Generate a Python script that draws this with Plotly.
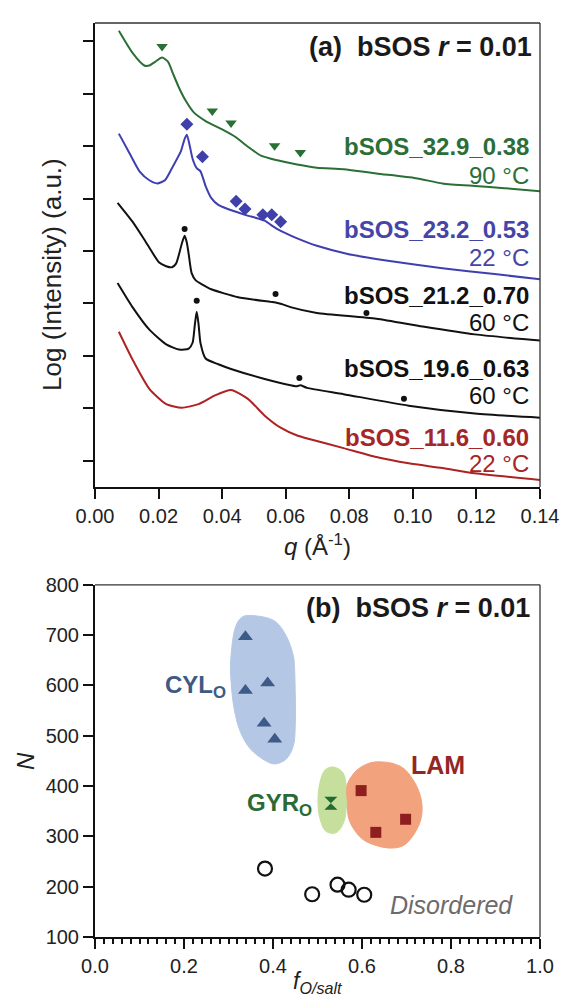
import plotly.graph_objects as go

FONT = "Liberation Sans, Arial, Helvetica, sans-serif"

# ---------------- Panel (a): SAXS profiles (log intensity, arbitrary offset units) ----------------
q_green = [0.0075, 0.0118, 0.0155, 0.0171, 0.0189, 0.0211, 0.0230, 0.0245, 0.0264, 0.0286, 0.0310,
           0.0348, 0.0397, 0.0441, 0.0481, 0.0522, 0.0574, 0.0636, 0.0698, 0.0782, 0.0885, 0.1009,
           0.1093, 0.1195, 0.1288, 0.1403]
I_green = [8.70, 8.28, 8.04, 8.04, 8.11, 8.19, 8.11, 7.89, 7.62, 7.36, 7.15,
           6.98, 6.83, 6.68, 6.49, 6.32, 6.23, 6.15, 6.09, 6.06, 5.98, 5.89,
           5.79, 5.74, 5.70, 5.64]

q_blue = [0.0075, 0.0109, 0.0140, 0.0171, 0.0196, 0.0220, 0.0242, 0.0270, 0.0282, 0.0289, 0.0298,
          0.0307, 0.0320, 0.0332, 0.0348, 0.0366, 0.0388, 0.0410, 0.0472, 0.0534, 0.0553, 0.0574,
          0.0596, 0.0636, 0.0698, 0.0792, 0.0916, 0.1093, 0.1257, 0.1403]
I_blue = [6.74, 6.36, 6.02, 5.85, 5.79, 5.85, 6.08, 6.40, 6.64, 6.72, 6.51,
          6.26, 6.08, 6.02, 5.74, 5.51, 5.38, 5.32, 5.19, 5.08, 5.00, 4.92,
          4.85, 4.74, 4.60, 4.45, 4.32, 4.17, 4.06, 3.96]

q_black1 = [0.0071, 0.0118, 0.0155, 0.0202, 0.0224, 0.0242, 0.0255, 0.0264, 0.0273, 0.0282, 0.0289,
            0.0295, 0.0304, 0.0317, 0.0335, 0.0366, 0.0450, 0.0553, 0.0574, 0.0587, 0.0615, 0.0698,
            0.0885, 0.1031, 0.1195, 0.1403]
I_black1 = [5.42, 5.06, 4.72, 4.28, 4.21, 4.19, 4.26, 4.43, 4.64, 4.79, 4.66,
            4.43, 4.08, 3.94, 3.87, 3.77, 3.62, 3.53, 3.51, 3.49, 3.43, 3.32,
            3.21, 3.06, 2.91, 2.79]

q_black2 = [0.0071, 0.0118, 0.0171, 0.0224, 0.0264, 0.0295, 0.0307, 0.0314, 0.0320, 0.0326, 0.0332,
            0.0348, 0.0388, 0.0428, 0.0534, 0.0636, 0.0646, 0.0667, 0.0782, 0.0987, 0.1195, 0.1403]
I_black2 = [3.89, 3.43, 3.00, 2.72, 2.62, 2.64, 2.75, 3.09, 3.34, 3.09, 2.74,
            2.45, 2.34, 2.25, 2.06, 1.92, 1.94, 1.89, 1.77, 1.55, 1.40, 1.32]

q_red = [0.0075, 0.0118, 0.0171, 0.0224, 0.0273, 0.0326, 0.0379, 0.0428, 0.0481, 0.0534, 0.0584,
         0.0636, 0.0677, 0.0782, 0.0885, 0.0987, 0.1093, 0.1195, 0.1403]
I_red = [2.96, 2.43, 1.87, 1.58, 1.51, 1.58, 1.75, 1.85, 1.68, 1.36, 1.13,
         0.98, 0.91, 0.74, 0.57, 0.45, 0.36, 0.26, 0.13]

# peak markers
q_tri = [0.0211, 0.0369, 0.0428, 0.0565, 0.0646]
I_tri = [8.40, 7.17, 6.94, 6.51, 6.38]
q_dia = [0.0289, 0.0338, 0.0444, 0.0472, 0.0528, 0.0556, 0.0584]
I_dia = [6.92, 6.30, 5.45, 5.30, 5.19, 5.19, 5.06]
q_dot1 = [0.0282, 0.0568, 0.0854]
I_dot1 = [4.92, 3.68, 3.32]
q_dot2 = [0.0320, 0.0643, 0.0972]
I_dot2 = [3.55, 2.08, 1.68]

sample_names = ["bSOS_32.9_0.38", "bSOS_23.2_0.53", "bSOS_21.2_0.70", "bSOS_19.6_0.63", "bSOS_11.6_0.60"]
sample_temps = ["90 °C", "22 °C", "60 °C", "60 °C", "22 °C"]
name_y = [6.49, 4.91, 3.66, 2.26, 0.94]
temp_y = [5.94, 4.38, 3.13, 1.74, 0.45]
colors_a = ["#2b6e38", "#4545a8", "#111111", "#111111", "#a52626"]
line_colors = ["#2a6f35", "#3f3fb0", "#111111", "#111111", "#ad2222"]

q_ticks = [0.00, 0.02, 0.04, 0.06, 0.08, 0.10, 0.12, 0.14]
logI_ticks = [0.5, 1.5, 2.5, 3.5, 4.5, 5.5, 6.5, 7.5, 8.5]

# ---------------- Panel (b): morphology map ----------------
f_cyl = [0.338, 0.388, 0.338, 0.380, 0.404]
N_cyl = [697, 605, 590, 525, 493]
f_gyr = [0.530]
N_gyr = [366]
f_lam = [0.598, 0.631, 0.698]
N_lam = [391, 308, 334]
f_dis = [0.382, 0.488, 0.545, 0.570, 0.605]
N_dis = [236, 185, 204, 194, 184]

# hand-drawn phase regions (outline points, data units)
cyl_region_f = [0.342, 0.402, 0.430, 0.446, 0.448, 0.450, 0.450, 0.446, 0.430, 0.404, 0.380, 0.349,
                0.327, 0.313, 0.305, 0.305, 0.316, 0.329]
cyl_region_N = [739, 729, 698, 658, 641, 586, 521, 481, 454, 444, 452, 474,
                507, 552, 619, 651, 717, 735]
gyr_region_f = [0.534, 0.556, 0.565, 0.565, 0.558, 0.541, 0.519, 0.506, 0.501, 0.506, 0.517]
gyr_region_N = [438, 428, 399, 360, 326, 307, 310, 334, 369, 409, 432]
lam_region_f = [0.645, 0.673, 0.695, 0.713, 0.728, 0.735, 0.731, 0.711, 0.691, 0.658, 0.607, 0.585,
                0.570, 0.567, 0.567, 0.589, 0.618]
lam_region_N = [448, 444, 434, 415, 389, 360, 330, 297, 281, 277, 291, 310,
                336, 369, 403, 432, 446]

fig = go.Figure()

# ---- panel (a) traces
curves = [(q_green, I_green), (q_blue, I_blue), (q_black1, I_black1), (q_black2, I_black2), (q_red, I_red)]
for (qq, ii), c in zip(curves, line_colors):
    fig.add_trace(go.Scatter(x=qq, y=ii, mode="lines", line=dict(color=c, width=2, shape="spline", smoothing=0.6),
                             xaxis="x", yaxis="y", showlegend=False, hoverinfo="skip"))

fig.add_trace(go.Scatter(x=q_tri, y=I_tri, mode="markers", xaxis="x", yaxis="y", showlegend=False,
                         marker=dict(symbol="triangle-down", size=10, color="#2a6f35")))
fig.add_trace(go.Scatter(x=q_dia, y=I_dia, mode="markers", xaxis="x", yaxis="y", showlegend=False,
                         marker=dict(symbol="diamond", size=10, color="#4040aa")))
fig.add_trace(go.Scatter(x=q_dot1 + q_dot2, y=I_dot1 + I_dot2, mode="markers", xaxis="x", yaxis="y",
                         showlegend=False, marker=dict(symbol="circle", size=6, color="#111111")))

# ---- panel (b) traces
for rf, rn, col in [(cyl_region_f, cyl_region_N, "#b4c8e6"), (gyr_region_f, gyr_region_N, "#c6df9d"),
                    (lam_region_f, lam_region_N, "#f3a27e")]:
    fig.add_trace(go.Scatter(x=rf + rf[:1], y=rn + rn[:1], mode="lines", fill="toself", fillcolor=col,
                             line=dict(color=col, width=1, shape="spline", smoothing=1.0),
                             xaxis="x2", yaxis="y2", showlegend=False, hoverinfo="skip"))

fig.add_trace(go.Scatter(x=f_cyl, y=N_cyl, mode="markers", xaxis="x2", yaxis="y2", showlegend=False,
                         marker=dict(symbol="triangle-up", size=13, color="#3d5a88")))
fig.add_trace(go.Scatter(x=f_gyr, y=N_gyr, mode="markers", xaxis="x2", yaxis="y2", showlegend=False,
                         marker=dict(symbol="hourglass", size=13, color="#236b30")))
fig.add_trace(go.Scatter(x=f_lam, y=N_lam, mode="markers", xaxis="x2", yaxis="y2", showlegend=False,
                         marker=dict(symbol="square", size=11, color="#8e1f1f")))
fig.add_trace(go.Scatter(x=f_dis, y=N_dis, mode="markers", xaxis="x2", yaxis="y2", showlegend=False,
                         marker=dict(symbol="circle-open", size=14, color="#111111", line=dict(width=2.2))))

axis_common = dict(showline=True, linecolor="#111111", linewidth=2, ticks="outside", ticklen=10,
                   tickwidth=2, tickcolor="#111111", showgrid=False, zeroline=False,
                   tickfont=dict(family=FONT, size=20, color="#222222"))

ML, MR, MT, MB = 95, 24, 13, 64
W, H = 571, 1001
plot_w = W - ML - MR
plot_h = H - MT - MB


def px_x(p):
    return (p - ML) / plot_w


def px_y(p):
    return (H - MB - p) / plot_h


fig.update_layout(
    width=W, height=H,
    margin=dict(l=ML, r=MR, t=MT, b=MB),
    paper_bgcolor="white", plot_bgcolor="white",
    font=dict(family=FONT, color="#111111"),
    xaxis=dict(domain=[0, 1], anchor="y", range=[0, 0.14], tickvals=q_ticks, tickformat=".2f", **axis_common),
    yaxis=dict(domain=[px_y(482), 1], anchor="x", range=[0, 8.85], tickvals=logI_ticks, showticklabels=False,
               **axis_common),
    xaxis2=dict(domain=[0, 1], anchor="y2", range=[0, 1], dtick=0.2, tick0=0, tickformat=".1f",
                minor=dict(dtick=0.02, ticklen=5, tickwidth=1.5, ticks="outside", tickcolor="#111111"),
                **axis_common),
    yaxis2=dict(domain=[0, px_y(581)], anchor="x2", range=[100, 800], dtick=100, tick0=100, **axis_common),
)

# top / right frame lines (thinner)
for xr, yr in [("x domain", "y domain"), ("x2 domain", "y2 domain")]:
    fig.add_shape(type="line", xref=xr, yref=yr, x0=0, x1=1, y0=1, y1=1, line=dict(color="#333333", width=1.3))
    fig.add_shape(type="line", xref=xr, yref=yr, x0=1, x1=1, y0=0, y1=1, line=dict(color="#333333", width=1.3))

ann = []
# panel (a) labels
ann.append(dict(x=0.1381, y=8.40, xref="x", yref="y", xanchor="right", yanchor="middle", showarrow=False,
                text="<b>(a)\u00a0\u00a0bSOS <i>r</i> = 0.01</b>", font=dict(size=27, color="#1a1a1a")))
for nm, tp, ny, ty, c in zip(sample_names, sample_temps, name_y, temp_y, colors_a):
    ann.append(dict(x=0.1372, y=ny, xref="x", yref="y", xanchor="right", yanchor="middle", showarrow=False,
                    text="<b>" + nm + "</b>", font=dict(size=24, color=c)))
    ann.append(dict(x=0.1372, y=ty, xref="x", yref="y", xanchor="right", yanchor="middle", showarrow=False,
                    text=tp, font=dict(size=24, color=c)))
# axis titles (a)
ann.append(dict(x=px_x(52), y=px_y(267), xref="paper", yref="paper", xanchor="center", yanchor="middle",
                showarrow=False, text="Log (Intensity) (a.u.)", textangle=-90,
                font=dict(size=26, color="#222222")))
ann.append(dict(x=0.5, y=px_y(541), xref="paper", yref="paper", xanchor="center", yanchor="middle",
                showarrow=False, text="<i>q</i> (Å<sup>-1</sup>)", font=dict(size=24, color="#222222")))
# panel (b) labels
ann.append(dict(x=0.982, y=753, xref="x2", yref="y2", xanchor="right", yanchor="middle", showarrow=False,
                text="<b>(b)\u00a0\u00a0bSOS <i>r</i> = 0.01</b>", font=dict(size=27, color="#1a1a1a")))
ann.append(dict(x=0.298, y=597, xref="x2", yref="y2", xanchor="right", yanchor="middle", showarrow=False,
                text="<b>CYL<sub>O</sub></b>", font=dict(size=24, color="#3d5a85")))
ann.append(dict(x=0.492, y=364, xref="x2", yref="y2", xanchor="right", yanchor="middle", showarrow=False,
                text="<b>GYR<sub>O</sub></b>", font=dict(size=24, color="#2a6b35")))
ann.append(dict(x=0.771, y=442, xref="x2", yref="y2", xanchor="center", yanchor="middle", showarrow=False,
                text="<b>LAM</b>", font=dict(size=25, color="#952626")))
ann.append(dict(x=0.801, y=163, xref="x2", yref="y2", xanchor="center", yanchor="middle", showarrow=False,
                text="<i>Disordered</i>", font=dict(size=25, color="#6e6a6a")))
ann.append(dict(x=0.5, y=px_y(983), xref="paper", yref="paper", xanchor="center", yanchor="middle",
                showarrow=False, text="<i>f</i><sub><i>O/salt</i></sub>", font=dict(size=23, color="#222222")))
ann.append(dict(x=px_x(25), y=px_y(759), xref="paper", yref="paper", xanchor="center", yanchor="middle",
                showarrow=False, text="<i>N</i>", textangle=-90, font=dict(size=24, color="#222222")))
fig.update_layout(annotations=ann)

fig.write_html("out.html")
